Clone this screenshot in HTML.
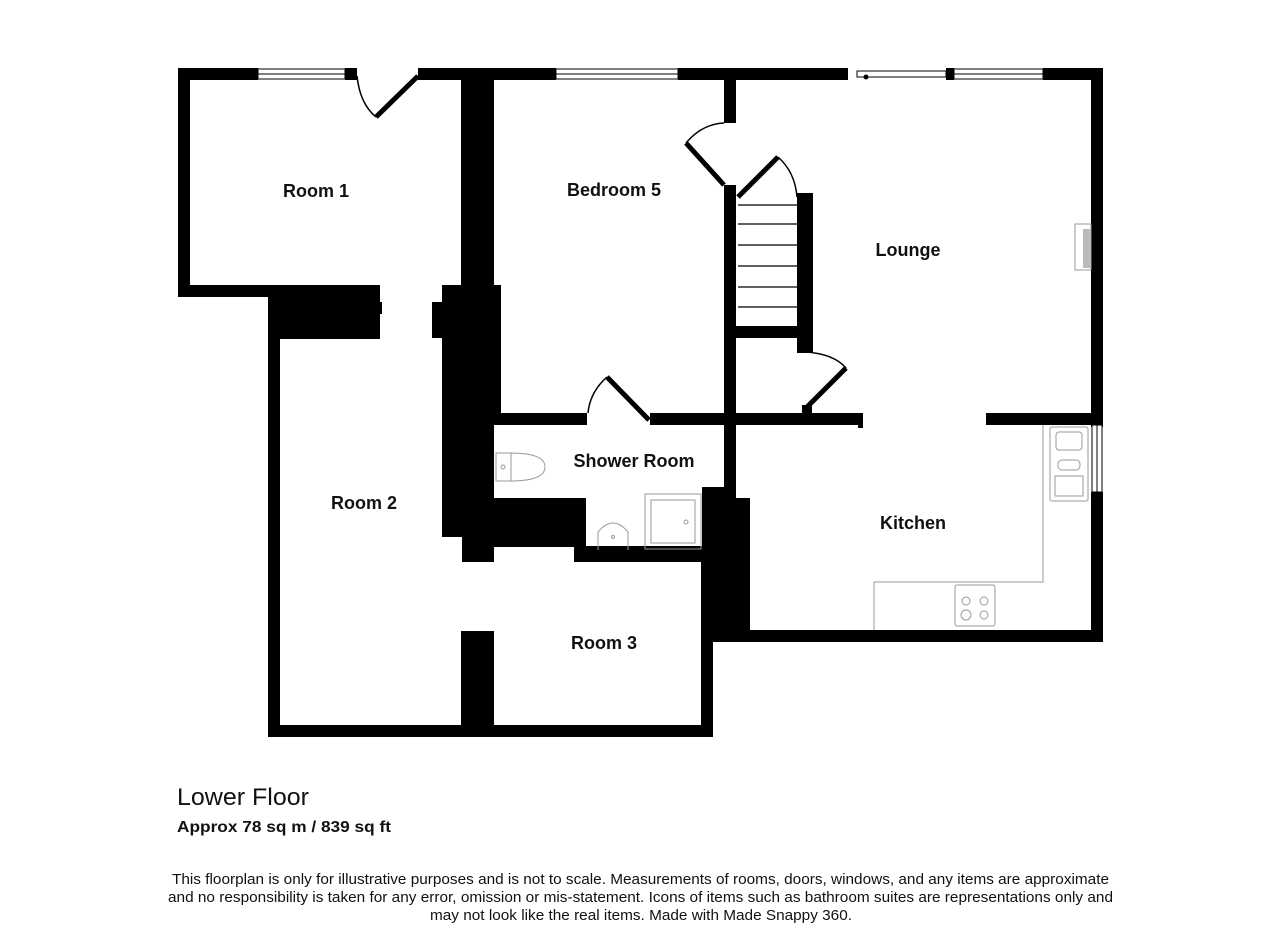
<!DOCTYPE html>
<html><head><meta charset="utf-8"><style>
html,body{margin:0;padding:0;background:#fff;}
svg{display:block;}
text{font-family:"Liberation Sans",Arial,sans-serif;}
</style></head><body>
<svg width="1280" height="949" viewBox="0 0 1280 949" xmlns="http://www.w3.org/2000/svg">
<rect width="1280" height="949" fill="#fff"/>
<g fill="#000">
<!-- top wall -->
<rect x="178" y="68" width="80" height="12"/>
<rect x="345" y="68" width="12" height="12"/>
<rect x="418" y="68" width="138" height="12"/>
<rect x="678" y="68" width="170" height="12"/>
<rect x="946" y="68" width="8" height="12"/>
<rect x="1043" y="68" width="60" height="12"/>
<!-- room1 -->
<rect x="178" y="68" width="12" height="229"/>
<rect x="178" y="285" width="92" height="12"/>
<rect x="268" y="285" width="112" height="54"/>
<rect x="378" y="302" width="4" height="12"/>
<rect x="268" y="285" width="12" height="452"/>
<!-- thick column -->
<rect x="461" y="68" width="33" height="220"/>
<rect x="442" y="285" width="59" height="128"/>
<rect x="432" y="302" width="12" height="36"/>
<rect x="442" y="410" width="52" height="127"/>
<rect x="462" y="530" width="32" height="32"/>
<!-- shower room walls -->
<rect x="494" y="498" width="92" height="49"/>
<rect x="574" y="546" width="128" height="16"/>
<rect x="494" y="413" width="93" height="12"/>
<rect x="650" y="413" width="212" height="12"/>
<rect x="858" y="413" width="5" height="15"/>
<!-- stairs/bedroom wall -->
<rect x="724" y="80" width="12" height="43"/>
<rect x="724" y="185" width="12" height="310"/>
<rect x="797" y="193" width="16" height="160"/>
<rect x="736" y="326" width="77" height="12"/>
<rect x="802" y="405" width="10" height="10"/>
<!-- kitchen left block -->
<rect x="702" y="487" width="34" height="155"/>
<rect x="736" y="498" width="14" height="144"/>
<rect x="702" y="630" width="401" height="12"/>
<rect x="701" y="560" width="12" height="177"/>
<!-- lounge -->
<rect x="1091" y="68" width="12" height="359"/>
<rect x="1091" y="492" width="12" height="150"/>
<rect x="986" y="413" width="106" height="12"/>
<!-- bottom -->
<rect x="268" y="725" width="445" height="12"/>
<rect x="461" y="631" width="33" height="100"/>
</g>
<!-- windows -->
<g fill="#fff" stroke="#000" stroke-width="1">
<rect x="258" y="69" width="87" height="10"/>
<line x1="258" y1="74" x2="345" y2="74"/>
<rect x="556" y="69" width="122" height="10"/>
<line x1="556" y1="74" x2="678" y2="74"/>
<rect x="857" y="71" width="89" height="6"/>
<rect x="954" y="69" width="89" height="10"/>
<line x1="954" y1="74" x2="1043" y2="74"/>
<rect x="1092" y="425" width="10" height="67"/>
<line x1="1097" y1="425" x2="1097" y2="492"/>
</g>
<circle cx="866" cy="77" r="2.5" fill="#000"/>
<!-- doors -->
<g stroke="#000" fill="none">
<line x1="418" y1="76" x2="376" y2="117" stroke-width="5"/>
<path d="M357 76 Q360 104 376 117" stroke-width="1.5"/>
<line x1="724" y1="185" x2="686" y2="143" stroke-width="5"/>
<path d="M686 143 Q702 124 724 123" stroke-width="1.5"/>
<line x1="738" y1="197" x2="778" y2="157" stroke-width="5"/>
<path d="M778 157 Q795 172 797 197" stroke-width="1.5"/>
<line x1="807" y1="407" x2="846" y2="368" stroke-width="5"/>
<path d="M806 352 Q834 354 846 368" stroke-width="1.5"/>
<line x1="649" y1="420" x2="607" y2="377" stroke-width="5"/>
<path d="M607 377 Q590 392 588 413" stroke-width="1.5"/>
</g>
<!-- stair treads -->
<g stroke="#000" stroke-width="1.2">
<line x1="738" y1="205" x2="797" y2="205"/>
<line x1="738" y1="224" x2="797" y2="224"/>
<line x1="738" y1="245" x2="797" y2="245"/>
<line x1="738" y1="266" x2="797" y2="266"/>
<line x1="738" y1="287" x2="797" y2="287"/>
<line x1="738" y1="307" x2="797" y2="307"/>
</g>
<!-- fixtures -->
<g fill="none" stroke="#999" stroke-width="1">
<rect x="1075" y="224" width="16" height="46"/>
<rect x="1083" y="229" width="8" height="39" fill="#bbb" stroke="none"/>
<polyline points="874,630 874,582 1043,582 1043,425"/>
<rect x="1050" y="427" width="38" height="74" rx="2"/>
<rect x="1056" y="432" width="26" height="18" rx="3"/>
<rect x="1058" y="460" width="22" height="10" rx="4"/>
<rect x="1055" y="476" width="28" height="20"/>
<rect x="955" y="585" width="40" height="41" rx="2"/>
<circle cx="966" cy="601" r="4"/><circle cx="984" cy="601" r="4"/>
<circle cx="966" cy="615" r="5"/><circle cx="984" cy="615" r="4"/>
<path d="M496 453 H510 Q545 453 545 467 Q545 481 510 481 H496 Z"/>
<line x1="511" y1="453" x2="511" y2="481"/>
<circle cx="503" cy="467" r="2"/>
<path d="M598 550 V532 Q613 514 628 532 V550"/>
<circle cx="613" cy="537" r="1.5"/>
<rect x="645" y="494" width="56" height="55"/>
<rect x="651" y="500" width="44" height="43"/>
<circle cx="686" cy="522" r="2"/>
</g>
<!-- labels -->
<g font-weight="bold" font-size="18" text-anchor="middle" fill="#111">
<text x="316" y="197">Room 1</text>
<text x="614" y="196">Bedroom 5</text>
<text x="908" y="256">Lounge</text>
<text x="634" y="467">Shower Room</text>
<text x="364" y="509">Room 2</text>
<text x="913" y="529">Kitchen</text>
<text x="604" y="649">Room 3</text>
</g>
<text x="177" y="805" font-size="24" fill="#111" textLength="132" lengthAdjust="spacingAndGlyphs">Lower Floor</text>
<text x="177" y="832" font-size="16" font-weight="bold" fill="#111" textLength="214" lengthAdjust="spacingAndGlyphs">Approx 78 sq m / 839 sq ft</text>
<g font-size="15" fill="#111">
<text x="172" y="884" textLength="937" lengthAdjust="spacingAndGlyphs">This floorplan is only for illustrative purposes and is not to scale. Measurements of rooms, doors, windows, and any items are approximate</text>
<text x="168" y="902" textLength="945" lengthAdjust="spacingAndGlyphs">and no responsibility is taken for any error, omission or mis-statement. Icons of items such as bathroom suites are representations only and</text>
<text x="430" y="920" textLength="422" lengthAdjust="spacingAndGlyphs">may not look like the real items. Made with Made Snappy 360.</text>
</g>
</svg>
</body></html>
